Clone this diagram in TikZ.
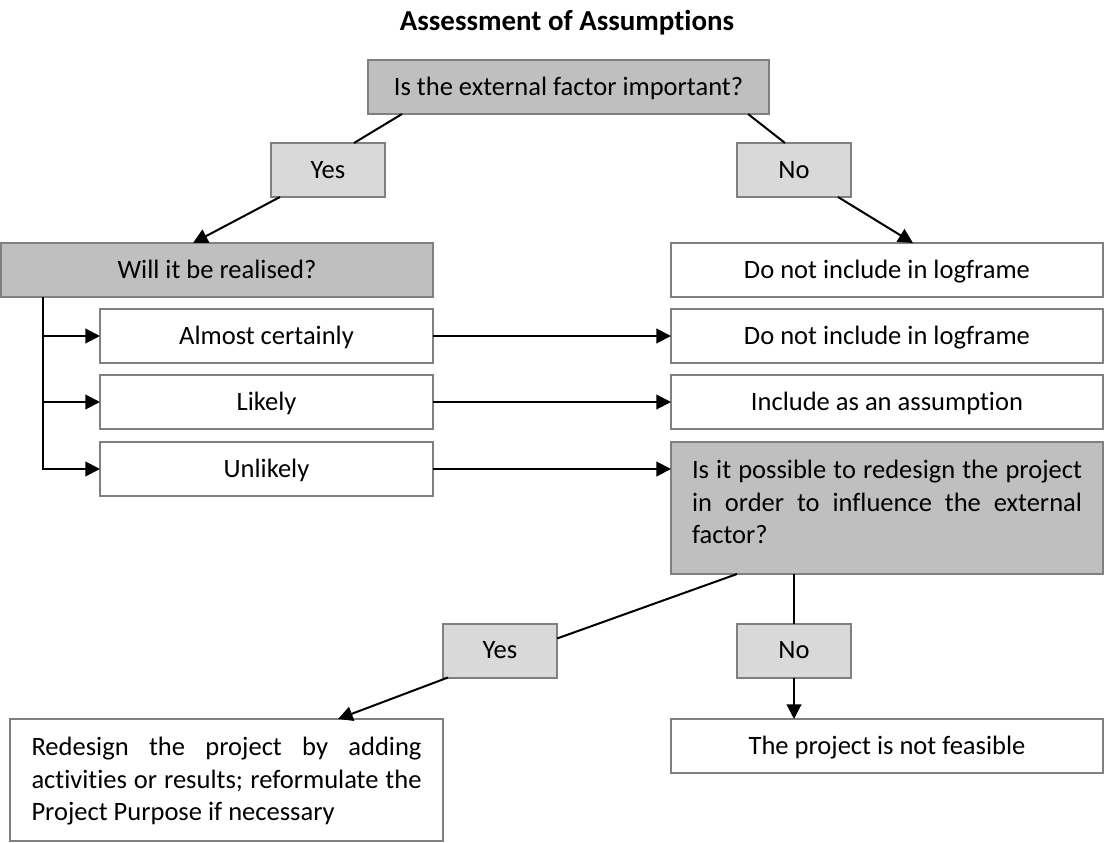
\documentclass[tikz,border=0pt]{standalone}
\usepackage{fontspec}
\setmainfont{Carlito}[Ligatures=NoCommon]
\usetikzlibrary{calc,arrows.meta}
\definecolor{boxline}{HTML}{808080}
\definecolor{darkfill}{HTML}{BFBFBF}
\definecolor{lightfill}{HTML}{D9D9D9}

\begin{document}
\begin{tikzpicture}[x=0.75pt,y=-0.75pt,
  bodyfont/.style={font=\fontsize{19.9}{24.3}\selectfont},
  frame/.style={draw=boxline, line width=1.5pt, inner sep=0pt, outer sep=0pt},
  box/.style={frame, bodyfont, minimum height=40.5pt, text height=12.6pt, text depth=0pt},
  question/.style={box, fill=darkfill},
  answer/.style={box, fill=lightfill, minimum width=85.5pt},
  outcome/.style={box, fill=white},
  wide/.style={minimum width=324pt},
  mid/.style={minimum width=249.75pt},
  bodytext/.style={bodyfont, anchor=north, inner sep=0pt, text width=292.5pt, align=justify},
  link/.style={line width=1.5pt},
  arrow/.style={link, -{Triangle[length=11pt,width=11pt]}},
]
\useasboundingbox (0,0) rectangle (1105,842);

% heading
\node[anchor=base, inner sep=0pt, font=\fontsize{21.7}{26}\selectfont\bfseries] (title) at (567,31) {Assessment of Assumptions};

% first question and its answers
\node[question, minimum width=300.75pt] (top) at (568.5,87) {Is the external factor important?};
\node[answer] (yes1) at (328,170) {Yes};
\node[answer] (no1) at (794,170) {No};

% second level
\node[question, wide] (will) at (217,270) {Will it be realised?};
\node[outcome, wide] (dni1) at (887,270) {Do not include in logframe};

% likelihood branches
\node[outcome, mid] (almost) at (266.5,336) {Almost certainly};
\node[outcome, mid] (likely) at (266.5,402) {Likely};
\node[outcome, mid] (unlikely) at (266.5,469) {Unlikely};

\node[outcome, wide] (dni2) at (887,336) {Do not include in logframe};
\node[outcome, wide] (incl) at (887,402) {Include as an assumption};

% redesign question
\node[frame, fill=darkfill, minimum width=324pt, minimum height=99pt] (isit) at (887,508) {};
\node[bodytext] (isittext) at ($(isit.north)+(0,18)$)
  {Is it possible to redesign the project\linebreak in order to influence the external\linebreak factor?};

\node[answer] (yes2) at (500,650.5) {Yes};
\node[answer] (no2) at (794,650.5) {No};

% final outcomes
\node[frame, fill=white, minimum width=324.75pt, minimum height=91.5pt] (redesign) at (226.5,780) {};
\node[bodytext] (redesigntext) at ($(redesign.north)+(0,18)$)
  {Redesign the project by adding\linebreak activities or results; reformulate the\linebreak Project Purpose if necessary};
\node[outcome, wide] (nf) at (887,746) {The project is not feasible};

% connectors
\draw[link] ($(top.south west)+(34,0)$) -- ($(yes1.north)+(26,0)$);
\draw[link] ($(top.south east)+(-21,0)$) -- ($(no1.north)+(-9,0)$);
\draw[arrow] ($(yes1.south west)+(9,0)$) -- ($(will.north)+(-24,0)$);
\draw[arrow] ($(no1.south east)+(-13,0)$) -- ($(dni1.north)+(26,0)$);

\coordinate (trunk) at ($(will.south west)+(42,0)$);
\draw[arrow] (trunk) |- (unlikely.west);
\draw[arrow] (trunk |- almost.west) -- (almost.west);
\draw[arrow] (trunk |- likely.west) -- (likely.west);

\draw[arrow] (almost.east) -- (dni2.west);
\draw[arrow] (likely.east) -- (incl.west);
\draw[arrow] (unlikely.east) -- (isit.west |- unlikely.east);

\draw[link] ($(isit.south west)+(66,0)$) -- ($(yes2.north east)+(0,15)$);
\draw[arrow] ($(yes2.south west)+(5,0)$) -- ($(redesign.north)+(111.5,0)$);
\draw[link] (no2.north |- isit.south) -- (no2.north);
\draw[arrow] (no2.south) -- (no2.south |- nf.north);
\end{tikzpicture}
\end{document}
